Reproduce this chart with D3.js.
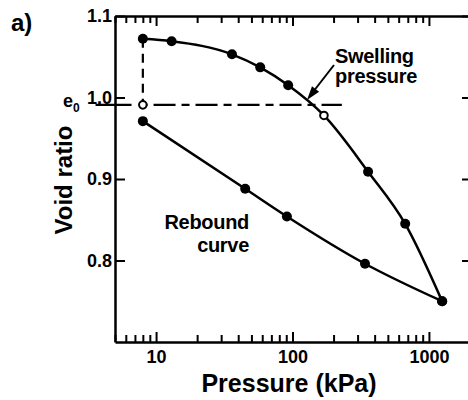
<!DOCTYPE html>
<html>
<head>
<meta charset="utf-8">
<script src="https://cdn.jsdelivr.net/npm/d3@7"></script>
<style>
  body { margin: 0; background: white; }
  svg { display: block; font-family: "Liberation Sans", Arial, sans-serif; font-weight: bold; }
</style>
</head>
<body>
<svg id="chart" width="468" height="400"></svg>
<script>
// loading curve (pressure kPa, void ratio)
const pressureLoad = [8, 13, 36, 58, 93, 170, 358, 670, 1250];
const voidLoad = [1.072, 1.069, 1.053, 1.037, 1.015, 0.978, 0.909, 0.845, 0.750];
// rebound curve
const pressureRebound = [8, 45, 91, 340, 1250];
const voidRebound = [0.971, 0.888, 0.854, 0.796, 0.750];
// open circles
const hollowP = [8, 170];
const hollowE = [0.991, 0.978];
const e0 = 0.991;
const e0Range = [3.6, 230];
const xTickLabels = [10, 100, 1000];
const yTickLabels = [0.8, 0.9, 1.0, 1.1];

const svg = d3.select("#chart");

const x = d3.scaleLog().domain([5, 2000]).range([115, 470]);
const y = d3.scaleLinear().domain([0.7, 1.1]).range([342, 16]);

const loadPts = pressureLoad.map((p, i) => [p, voidLoad[i]]);
const rebPts = pressureRebound.map((p, i) => [p, voidRebound[i]]);

const line = d3.line()
    .x(d => x(d[0]))
    .y(d => y(d[1]))
    .curve(d3.curveMonotoneX);

// axes
const minor = x.ticks();

const bottomAxis = svg.append("g")
    .attr("transform", `translate(0,${y(0.7)})`)
    .call(d3.axisBottom(x).tickValues(minor).tickSize(-7).tickSizeOuter(0).tickPadding(8)
        .tickFormat(d => xTickLabels.includes(d) ? d : ""));

const topAxis = svg.append("g")
    .attr("transform", `translate(0,${y(1.1)})`)
    .call(d3.axisTop(x).tickValues(minor).tickSize(-7).tickSizeOuter(0).tickFormat(""));

const leftAxis = svg.append("g")
    .attr("transform", `translate(${x(5)},0)`)
    .call(d3.axisLeft(y).tickValues(yTickLabels).tickSize(-10).tickSizeOuter(0).tickPadding(3)
        .tickFormat(d3.format(".1f")));

const rightAxis = svg.append("g")
    .attr("transform", `translate(${x(2000)},0)`)
    .call(d3.axisRight(y).tickValues(yTickLabels).tickSize(-8).tickSizeOuter(0).tickFormat(""));

[bottomAxis, topAxis, leftAxis, rightAxis].forEach(g => {
    g.select(".domain").attr("stroke", "black").attr("stroke-width", 2.5);
    g.selectAll(".tick line").attr("stroke", "black").attr("stroke-width", 2);
    g.selectAll("text").attr("fill", "black")
        .style("font-family", "'Liberation Sans', Arial, sans-serif")
        .style("font-weight", "bold")
        .style("font-size", "18px");
});

// longer major ticks
bottomAxis.selectAll(".tick").filter(d => xTickLabels.includes(d)).select("line").attr("y2", -10);
topAxis.selectAll(".tick").filter(d => xTickLabels.includes(d)).select("line").attr("y2", 10);

// e0 line (dash-dot)
svg.append("line")
    .attr("x1", x(e0Range[0])).attr("x2", x(e0Range[1]))
    .attr("y1", y(e0)).attr("y2", y(e0))
    .attr("stroke", "black").attr("stroke-width", 2.2)
    .attr("stroke-dasharray", "36,8,8,6,22,6,8,6,22,6,8,6,22,6,8,6,22,6,8,6,22,6,8,6");

// vertical dashed line from first loading point down to e0
svg.append("line")
    .attr("x1", x(pressureLoad[0])).attr("x2", x(pressureLoad[0]))
    .attr("y1", y(voidLoad[0])).attr("y2", y(e0))
    .attr("stroke", "black").attr("stroke-width", 2.2)
    .attr("stroke-dasharray", "9,6");

// curves
svg.append("path").datum(loadPts)
    .attr("d", line).attr("fill", "none").attr("stroke", "black").attr("stroke-width", 2.5);
svg.append("path").datum(rebPts)
    .attr("d", line).attr("fill", "none").attr("stroke", "black").attr("stroke-width", 2.5);

// filled markers
const filled = loadPts.filter((d, i) => i !== 5).concat(rebPts);
svg.selectAll("circle.f").data(filled).enter().append("circle")
    .attr("class", "f")
    .attr("cx", d => x(d[0])).attr("cy", d => y(d[1]))
    .attr("r", 5).attr("fill", "black");

// open markers
svg.selectAll("circle.h").data(hollowP.map((p, i) => [p, hollowE[i]])).enter().append("circle")
    .attr("class", "h")
    .attr("cx", d => x(d[0])).attr("cy", d => y(d[1]))
    .attr("r", 3.8).attr("fill", "white").attr("stroke", "black").attr("stroke-width", 2);

// e0 label
const eLab = svg.append("text")
    .attr("x", 63).attr("y", 107)
    .attr("font-size", "18px");
eLab.append("tspan").text("e");
eLab.append("tspan").attr("dy", 5).attr("font-size", "12px").text("0");

// swelling pressure annotation
const sw = svg.append("text").attr("font-size", "20px").attr("letter-spacing", "-0.3px");
sw.append("tspan").attr("x", 335).attr("y", 63).text("Swelling");
sw.append("tspan").attr("x", 335).attr("y", 83).text("pressure");

const ax0 = [334, 65], ax1 = [307, 100];
svg.append("line")
    .attr("x1", ax0[0]).attr("y1", ax0[1]).attr("x2", ax1[0] + 6).attr("y2", ax1[1] - 8)
    .attr("stroke", "black").attr("stroke-width", 2);
const ang = Math.atan2(ax1[1] - ax0[1], ax1[0] - ax0[0]);
const hl = 14, hw = 4.5;
const bx = ax1[0] - hl * Math.cos(ang), by = ax1[1] - hl * Math.sin(ang);
svg.append("path")
    .attr("d", `M${ax1[0]},${ax1[1]}L${bx - hw * Math.sin(ang)},${by + hw * Math.cos(ang)}L${bx + hw * Math.sin(ang)},${by - hw * Math.cos(ang)}Z`)
    .attr("fill", "black");

// rebound label
const rb = svg.append("text").attr("font-size", "20px").attr("text-anchor", "end").attr("letter-spacing", "-0.3px");
rb.append("tspan").attr("x", 249).attr("y", 229).text("Rebound");
rb.append("tspan").attr("x", 249).attr("y", 252).text("curve");

// axis titles
svg.append("text")
    .attr("x", 289).attr("y", 392)
    .attr("text-anchor", "middle").attr("font-size", "25px")
    .text("Pressure (kPa)");

svg.append("text")
    .attr("transform", "translate(72,180) rotate(-90)")
    .attr("text-anchor", "middle").attr("font-size", "24px")
    .text("Void ratio");

svg.append("text")
    .attr("x", 11).attr("y", 31)
    .attr("font-size", "24px")
    .text("a)");
</script>
</body>
</html>
